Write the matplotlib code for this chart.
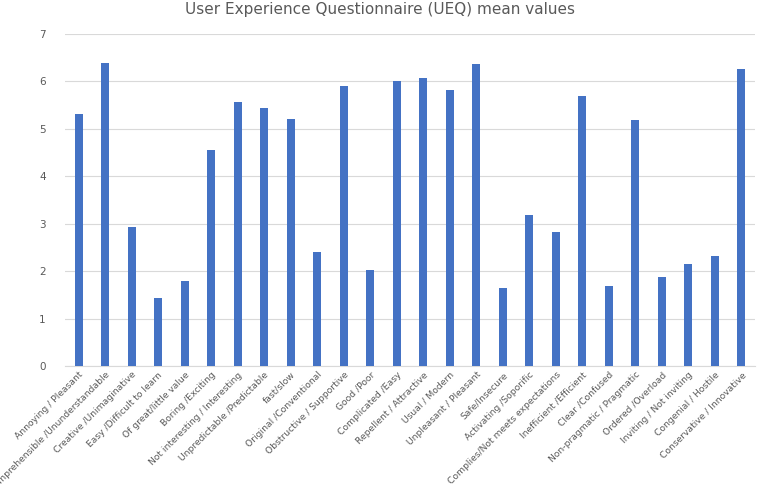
import matplotlib.pyplot as plt

labels = ["Annoying / Pleasant", "Incomprehensible /Ununderstandable", "Creative /Unimaginative",
          "Easy /Difficult to learn", "Of great/little value", "Boring /Exciting",
          "Not interesting / Interesting", "Unpredictable /Predictable", "fast/slow",
          "Original /Conventional", "Obstructive / Supportive", "Good /Poor",
          "Complicated /Easy", "Repellent / Attractive", "Usual / Modern",
          "Unpleasant / Pleasant", "Safe/Insecure", "Activating /Soporific",
          "Complies/Not meets expectations", "Inefficient /Efficient", "Clear /Confused",
          "Non-pragmatic / Pragmatic", "Ordered /Overload", "Inviting / Not inviting",
          "Congenial / Hostile", "Conservative / Innovative"]
values = [5.30, 6.39, 2.92, 1.44, 1.79, 4.56, 5.57, 5.44, 5.21, 2.41, 5.91, 2.03,
          6.01, 6.07, 5.81, 6.36, 1.64, 3.19, 2.83, 5.68, 1.68, 5.19, 1.88, 2.16,
          2.32, 6.26]

fig = plt.figure(figsize=(7.6, 4.9), dpi=100)
ax = fig.add_axes([0.086, 0.253, 0.907, 0.678])

x = range(len(labels))
ax.bar(x, values, width=0.3, color="#4472C4", zorder=3)
ax.set_xlim(-0.5, len(labels) - 0.5)
ax.set_ylim(0, 7)
ax.set_yticks(range(0, 8))
ax.grid(axis="y", color="#D9D9D9", linewidth=0.8, zorder=0)
for s in ["top", "right", "left"]:
    ax.spines[s].set_visible(False)
ax.spines["bottom"].set_color("#D9D9D9")
ax.tick_params(axis="both", length=0, colors="#595959", labelsize=6.6)
ax.set_xticks(list(x))
ax.set_xticklabels(labels, rotation=45, ha="right", rotation_mode="anchor")
ax.tick_params(axis="x", pad=3)
ax.tick_params(axis="y", pad=14, labelsize=7.5)

fig.suptitle("User Experience Questionnaire (UEQ) mean values", y=0.98, va="center",
             fontsize=11, color="#595959")

fig.savefig("out.png")
